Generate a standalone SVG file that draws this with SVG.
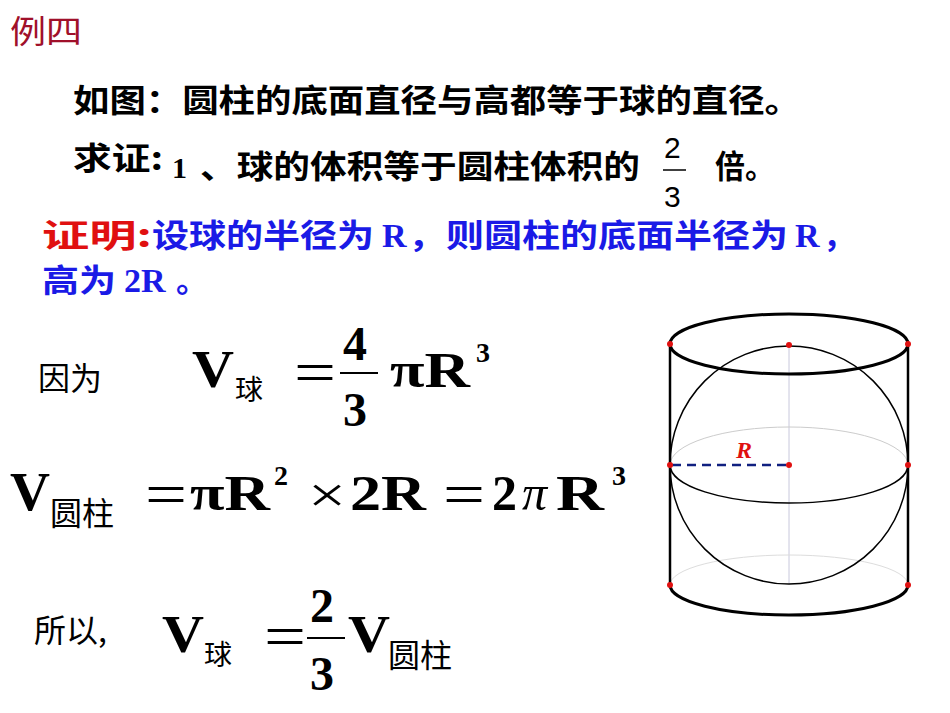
<svg xmlns="http://www.w3.org/2000/svg" width="950" height="713" viewBox="0 0 950 713">
<style>
.cn{font-family:"Noto Sans CJK SC","Noto Sans",sans-serif;font-size:32px;font-weight:bold;fill:#000}
.b{font-family:"Liberation Serif",serif;font-weight:bold;fill:#000}
.s{font-family:"Noto Sans CJK SC",sans-serif;fill:#000}
.dot{fill:#e01010}
</style>
<rect width="950" height="713" fill="#fff"/>
<g id="title"><text x="10" y="43" class="cn" style="fill:#a0102a;font-weight:normal" textLength="72" lengthAdjust="spacingAndGlyphs">例四</text></g>
<g id="text1">
<text x="73" y="112" class="cn" textLength="728" lengthAdjust="spacingAndGlyphs">如图：圆柱的底面直径与高都等于球的直径。</text>
<text x="73" y="170" class="cn" textLength="90" lengthAdjust="spacingAndGlyphs">求证:</text>
<text x="172" y="178" class="b" style="font-size:30px">1</text>
<text x="200" y="178" class="cn" textLength="440" lengthAdjust="spacingAndGlyphs">、球的体积等于圆柱体积的</text>
<text x="664" y="158" style="font-family:'Liberation Sans',sans-serif;font-size:30px">2</text>
<line x1="663" y1="170" x2="686" y2="170" stroke="#000" stroke-width="1.5"/>
<text x="664" y="207" style="font-family:'Liberation Sans',sans-serif;font-size:30px">3</text>
<text x="715" y="178" class="cn" textLength="60" lengthAdjust="spacingAndGlyphs">倍。</text>
</g>
<g id="proof">
<text x="42" y="247" class="cn" style="fill:#e01010" textLength="110" lengthAdjust="spacingAndGlyphs">证明:</text>
<text x="152" y="247" class="cn" style="fill:#1a1ae6" textLength="222" lengthAdjust="spacingAndGlyphs">设球的半径为</text>
<text x="382" y="247" class="b" style="fill:#1a1ae6;font-size:34px">R</text>
<text x="408" y="247" class="cn" style="fill:#1a1ae6" textLength="380" lengthAdjust="spacingAndGlyphs">，则圆柱的底面半径为</text>
<text x="795" y="247" class="b" style="fill:#1a1ae6;font-size:34px">R</text>
<text x="823" y="247" class="cn" style="fill:#1a1ae6">，</text>
<text x="42" y="292" class="cn" style="fill:#1a1ae6" textLength="74" lengthAdjust="spacingAndGlyphs">高为</text>
<text x="124" y="292" class="b" style="fill:#1a1ae6;font-size:34px">2R</text>
<text x="176" y="292" class="cn" style="fill:#1a1ae6">。</text>
</g>
<g id="eq1">
<text x="38" y="390" class="cn" style="font-weight:normal">因为</text>
<text x="192" y="387" class="b" style="font-size:52px" textLength="42" lengthAdjust="spacingAndGlyphs">V</text>
<text x="235" y="400" class="s" style="font-size:28px">球</text>
<text x="294" y="392" class="b" style="font-size:60px;font-weight:normal" textLength="42" lengthAdjust="spacingAndGlyphs">=</text>
<text x="343" y="360" class="b" style="font-size:48px">4</text>
<line x1="340" y1="373" x2="378" y2="373" stroke="#000" stroke-width="2"/>
<text x="343" y="426" class="b" style="font-size:48px">3</text>
<text x="390" y="387" class="b" style="font-size:50px" textLength="80" lengthAdjust="spacingAndGlyphs">πR</text>
<text x="476" y="362" class="b" style="font-size:28px">3</text>
</g>
<g id="eq2">
<text x="10" y="510" class="b" style="font-size:54px" textLength="40" lengthAdjust="spacingAndGlyphs">V</text>
<text x="50" y="525" class="s" style="font-size:32px">圆柱</text>
<text x="145" y="514" class="b" style="font-size:60px;font-weight:normal" textLength="42" lengthAdjust="spacingAndGlyphs">=</text>
<text x="190" y="510" class="b" style="font-size:50px" textLength="80" lengthAdjust="spacingAndGlyphs">πR</text>
<text x="274" y="485" class="b" style="font-size:28px">2</text>
<text x="308" y="512" class="b" style="font-size:50px;font-weight:normal" textLength="38" lengthAdjust="spacingAndGlyphs">×</text>
<text x="350" y="510" class="b" style="font-size:50px" textLength="76" lengthAdjust="spacingAndGlyphs">2R</text>
<text x="443" y="514" class="b" style="font-size:60px;font-weight:normal" textLength="42" lengthAdjust="spacingAndGlyphs">=</text>
<text x="492" y="510" class="b" style="font-size:50px">2</text>
<text x="522" y="510" class="b" style="font-size:50px;font-style:italic;font-weight:normal">π</text>
<text x="556" y="510" class="b" style="font-size:50px" textLength="48" lengthAdjust="spacingAndGlyphs">R</text>
<text x="612" y="485" class="b" style="font-size:28px">3</text>
</g>
<g id="eq3">
<text x="34" y="642" class="cn" style="font-weight:normal">所以,</text>
<text x="162" y="652" class="b" style="font-size:52px" textLength="42" lengthAdjust="spacingAndGlyphs">V</text>
<text x="204" y="665" class="s" style="font-size:28px">球</text>
<text x="264" y="656" class="b" style="font-size:60px;font-weight:normal" textLength="42" lengthAdjust="spacingAndGlyphs">=</text>
<text x="310" y="622" class="b" style="font-size:48px">2</text>
<line x1="307" y1="638" x2="345" y2="638" stroke="#000" stroke-width="2"/>
<text x="310" y="690" class="b" style="font-size:48px">3</text>
<text x="348" y="652" class="b" style="font-size:52px" textLength="42" lengthAdjust="spacingAndGlyphs">V</text>
<text x="388" y="667" class="s" style="font-size:32px">圆柱</text>
</g>
<g id="figure">
<line x1="789" y1="346" x2="789" y2="584" stroke="#c8c8dc" stroke-width="1"/>
<path d="M670 465 A119 38 0 0 1 908 465" fill="none" stroke="#ccc" stroke-width="1"/>
<path d="M670 585 A119 30 0 0 1 908 585" fill="none" stroke="#ddd" stroke-width="1"/>
<circle cx="789" cy="465" r="119" fill="none" stroke="#000" stroke-width="1.5"/>
<path d="M670 465 A119 38 0 0 0 908 465" fill="none" stroke="#000" stroke-width="1.5"/>
<ellipse cx="789" cy="344" rx="119" ry="30" fill="none" stroke="#000" stroke-width="3"/>
<path d="M670 585 A119 30 0 0 0 908 585" fill="none" stroke="#000" stroke-width="3"/>
<line x1="670" y1="344" x2="670" y2="585" stroke="#000" stroke-width="2.5"/>
<line x1="908" y1="344" x2="908" y2="585" stroke="#000" stroke-width="2.5"/>
<line x1="672" y1="465" x2="789" y2="465" stroke="#102080" stroke-width="2.5" stroke-dasharray="9,6"/>
<text x="736" y="458" style="font-family:'Liberation Serif',serif;font-style:italic;font-weight:bold;font-size:24px;fill:#e01010">R</text>
<circle class="dot" cx="670" cy="344" r="3"/><circle class="dot" cx="908" cy="344" r="3"/>
<circle class="dot" cx="789" cy="345" r="3"/><circle class="dot" cx="670" cy="465" r="3"/>
<circle class="dot" cx="789" cy="465" r="3"/><circle class="dot" cx="908" cy="465" r="3"/>
<circle class="dot" cx="670" cy="585" r="3"/><circle class="dot" cx="908" cy="585" r="3"/>
</g>
</svg>
